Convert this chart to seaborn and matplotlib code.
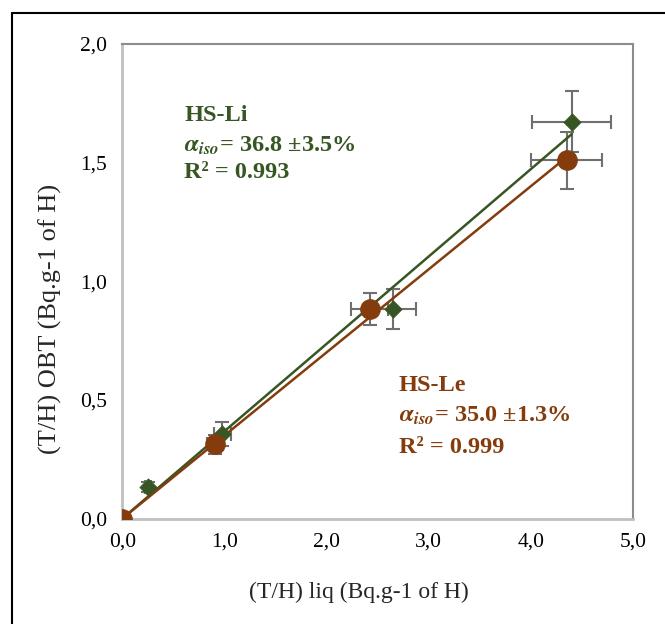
"""
OBT vs liquid tritium, HS-Li / HS-Le
"""

import numpy as np
import seaborn as sns
import matplotlib.pyplot as plt
from matplotlib.lines import Line2D

# HS-Li (green diamonds)
li_x = [0.0, 0.25, 0.98, 2.65, 4.40]
li_y = [0.0, 0.132, 0.357, 0.882, 1.672]
li_xerr = [0.0, 0.03, 0.08, 0.22, 0.385]
li_yerr = [0.0, 0.02, 0.05, 0.083, 0.13]
li_slope = 0.368

# HS-Le (brown circles)
le_x = [0.0, 0.91, 2.42, 4.35]
le_y = [0.0, 0.312, 0.882, 1.508]
le_xerr = [0.0, 0.08, 0.18, 0.345]
le_yerr = [0.0, 0.04, 0.067, 0.12]
le_slope = 0.350

xticks = [0, 1, 2, 3, 4, 5]
yticks = [0, 0.5, 1.0, 1.5, 2.0]

green = "#375623"
brown = "#843c0c"
errc = "#6f6f6f"

sns.set_theme(style="white")
plt.rcParams['font.family'] = ['Liberation Serif', 'DejaVu Serif']
plt.rcParams['mathtext.fontset'] = 'stix'

fig = plt.figure(figsize=(6.65, 6.24), dpi=100)
ax = fig.add_axes([0.184, 0.169, 0.768, 0.761])

# fit lines through origin
for xs, slope, c in [(li_x, li_slope, green), (le_x, le_slope, brown)]:
    lx = np.array([0.0, max(xs)])
    sns.lineplot(x=lx, y=slope * lx, color=c, lw=1.8, ax=ax, zorder=3)

for xs, ys, xe, ye in [(li_x, li_y, li_xerr, li_yerr), (le_x, le_y, le_xerr, le_yerr)]:
    ax.errorbar(xs, ys, xerr=xe, yerr=ye, fmt='none', ecolor=errc,
                elinewidth=1.5, capsize=5, capthick=1.5, zorder=2)

sns.scatterplot(x=li_x, y=li_y, marker='D', s=75, color=green, edgecolor=green,
                ax=ax, zorder=4)
sns.scatterplot(x=le_x, y=le_y, marker='o', s=190, color=brown, edgecolor=brown,
                ax=ax, zorder=5)

ax.set_xlim(0, 5)
ax.set_ylim(0, 2)
ax.set_xticks(xticks)
ax.set_yticks(yticks)
ax.set_xticklabels([f"{v:.1f}".replace('.', ',') for v in xticks])
ax.set_yticklabels([f"{v:.1f}".replace('.', ',') for v in yticks])
ax.tick_params(labelsize=15.5, length=0, colors='black')
ax.tick_params(axis='x', pad=10)
ax.tick_params(axis='y', pad=11)

for side in ['left', 'bottom']:
    ax.spines[side].set_color('#bfbfbf')
    ax.spines[side].set_linewidth(2)
for side in ['top', 'right']:
    ax.spines[side].set_color('#8c8c8c')
    ax.spines[side].set_linewidth(1.5)

ax.set_xlabel("(T/H) liq (Bq.g-1 of H)", fontsize=17)
ax.set_ylabel("(T/H) OBT (Bq.g-1 of H)", fontsize=19)
ax.xaxis.set_label_coords(0.463, -0.133)
ax.yaxis.set_label_coords(-0.119, 0.421)

alpha = r"$\boldsymbol{\alpha}_{\mathbfit{iso}}$"
tkw = dict(fontsize=17.5, fontweight='bold', transform=ax.transAxes)
ax.text(0.1216, 0.8376, "HS-Li", color=green, **tkw)
ax.text(0.1216, 0.772, alpha + "= 36.8 ±3.5%", color=green, **tkw)
ax.text(0.1216, 0.717, "R² = 0.993", color=green, **tkw)

ax.text(0.541, 0.269, "HS-Le", color=brown, **tkw)
ax.text(0.541, 0.203, alpha + "= 35.0 ±1.3%", color=brown, **tkw)
ax.text(0.541, 0.138, "R² = 0.999", color=brown, **tkw)

# outer frame
fx0, fy0 = 12 / 665, 1 - 13 / 624
fig.add_artist(Line2D([fx0, 1.0], [fy0, fy0], color='black', lw=1.5))
fig.add_artist(Line2D([fx0, fx0], [0.0, fy0], color='black', lw=1.5))

plt.savefig("out.png", dpi=100)
